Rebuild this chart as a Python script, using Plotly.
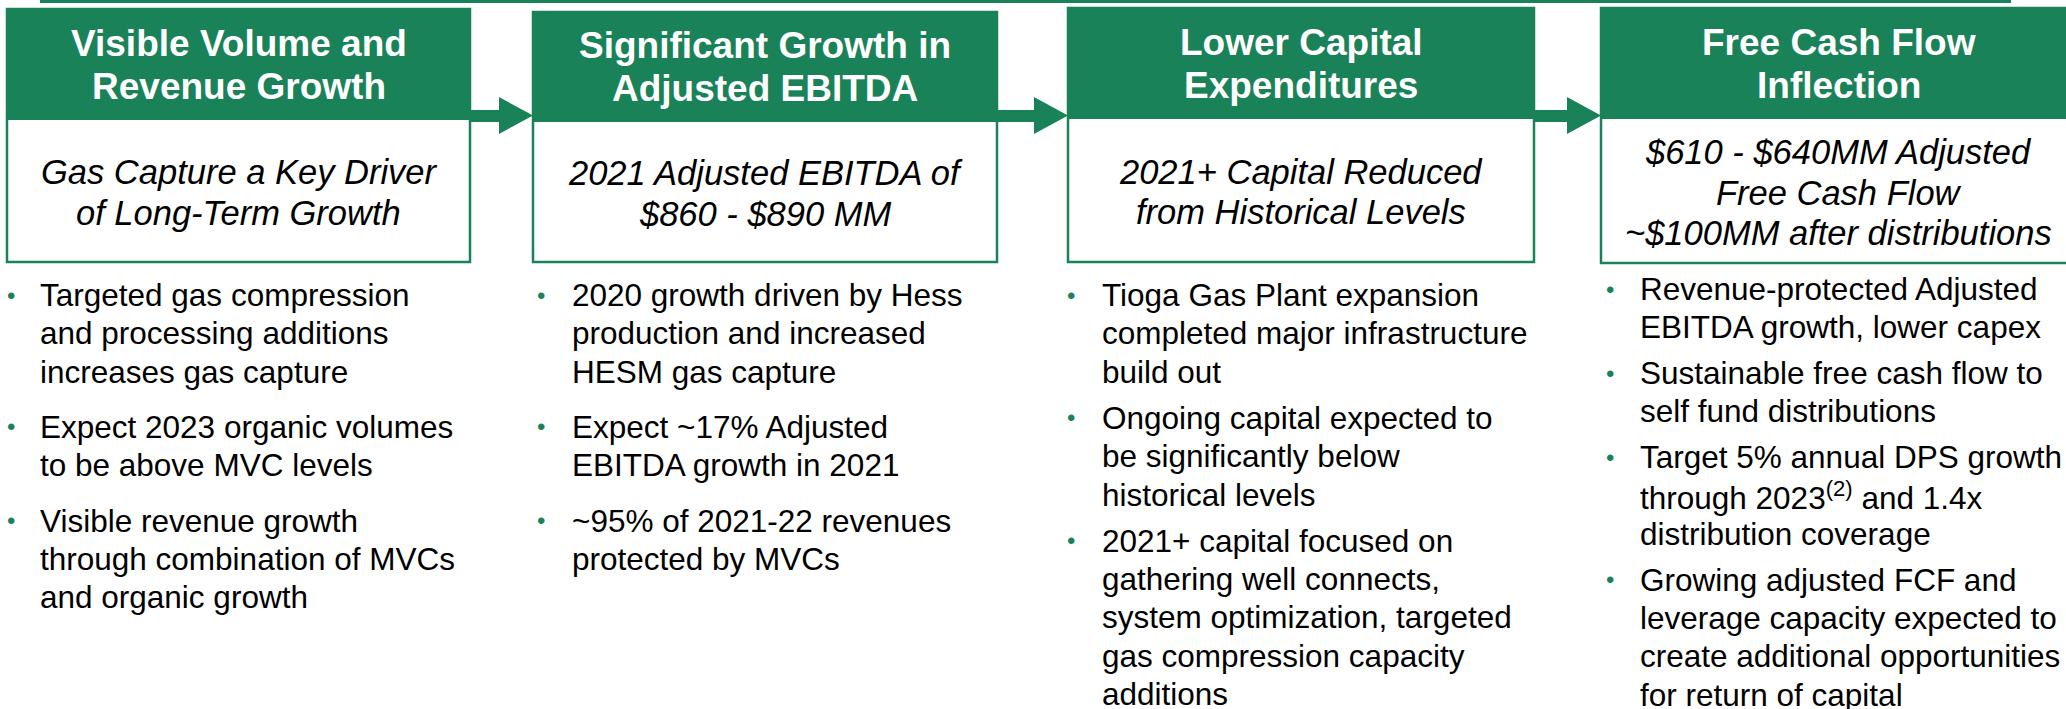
import plotly.graph_objects as go

W, H = 2066, 709
GREEN = "#1a8259"
FONT = "Liberation Sans, Arial, Helvetica, sans-serif"

# ---- content ----
headers = [
    ["Visible Volume and", "Revenue Growth"],
    ["Significant Growth in", "Adjusted EBITDA"],
    ["Lower Capital", "Expenditures"],
    ["Free Cash Flow", "Inflection"],
]
subtitles = [
    ["Gas Capture a Key Driver", "of Long-Term Growth"],
    ["2021 Adjusted EBITDA of", "$860 - $890 MM"],
    ["2021+ Capital Reduced", "from Historical Levels"],
    ["$610 - $640MM Adjusted", "Free Cash Flow", "~$100MM after distributions"],
]
bullets_col1 = [
    ["Targeted gas compression", "and processing additions", "increases gas capture"],
    ["Expect 2023 organic volumes", "to be above MVC levels"],
    ["Visible revenue growth", "through combination of MVCs", "and organic growth"],
]
bullets_col2 = [
    ["2020 growth driven by Hess", "production and increased", "HESM gas capture"],
    ["Expect ~17% Adjusted", "EBITDA growth in 2021"],
    ["~95% of 2021-22 revenues", "protected by MVCs"],
]
bullets_col3 = [
    ["Tioga Gas Plant expansion", "completed major infrastructure", "build out"],
    ["Ongoing capital expected to", "be significantly below", "historical levels"],
    ["2021+ capital focused on", "gathering well connects,", "system optimization, targeted",
     "gas compression capacity", "additions"],
]
bullets_col4 = [
    ["Revenue-protected Adjusted", "EBITDA growth, lower capex"],
    ["Sustainable free cash flow to", "self fund distributions"],
    ["Target 5% annual DPS growth", "through 2023<sup>(2)</sup> and 1.4x", "distribution coverage"],
    ["Growing adjusted FCF and", "leverage capacity expected to",
     "create additional opportunities", "for return of capital"],
]
bullets = [bullets_col1, bullets_col2, bullets_col3, bullets_col4]

# ---- layout geometry (pixels) ----
box_left = [7, 533, 1068, 1601]
box_right = [470, 997, 1534, 2076]
head_top = [9, 12, 8, 8]
head_bot = [120, 122, 119, 119]
box_bot = [262, 262, 262, 263]

dot_x = [11, 541, 1071, 1610]
text_x = [38, 570, 1100, 1638]
start_y = [295, 295, 295, 289]
para_gap = [17, 17, 8, 7.5]
LINE_H = 38.3

fig = go.Figure()
shapes = []
annotations = []

# top rule
shapes.append(dict(type="rect", xref="x", yref="y", x0=40, x1=2011, y0=-3, y1=3,
                   fillcolor=GREEN, line=dict(width=0), layer="above"))

for i in range(4):
    L, R = box_left[i], box_right[i]
    # header fill
    shapes.append(dict(type="rect", xref="x", yref="y", x0=L, x1=R, y0=head_top[i], y1=head_bot[i],
                       fillcolor=GREEN, line=dict(width=0), layer="above"))
    # outline box
    shapes.append(dict(type="rect", xref="x", yref="y", x0=L, x1=R, y0=head_top[i], y1=box_bot[i],
                       fillcolor="rgba(0,0,0,0)", line=dict(color=GREEN, width=2.5), layer="above"))
    cx = (L + R) / 2
    # header text
    hc = (head_top[i] + head_bot[i]) / 2
    hl = headers[i]
    for j, t in enumerate(hl):
        y = hc + (j - (len(hl) - 1) / 2) * 43
        annotations.append(dict(x=cx, y=y, xref="x", yref="y", text="<b>" + t + "</b>",
                                showarrow=False, xanchor="center", yanchor="middle",
                                font=dict(family=FONT, size=37, color="white")))
    # subtitle text
    sc = (head_bot[i] + box_bot[i]) / 2 + 1.5
    sl = subtitles[i]
    for j, t in enumerate(sl):
        y = sc + (j - (len(sl) - 1) / 2) * 40.5
        annotations.append(dict(x=cx, y=y, xref="x", yref="y", text="<i>" + t + "</i>",
                                showarrow=False, xanchor="center", yanchor="middle",
                                font=dict(family=FONT, size=34.5, color="black")))
    # bullets
    y = start_y[i]
    for para in bullets[i]:
        annotations.append(dict(x=dot_x[i], y=y, xref="x", yref="y", text="•",
                                showarrow=False, xanchor="center", yanchor="middle",
                                font=dict(family=FONT, size=24, color=GREEN)))
        for line in para:
            annotations.append(dict(x=text_x[i], y=y, xref="x", yref="y", text=line,
                                    showarrow=False, xanchor="left", yanchor="middle",
                                    font=dict(family=FONT, size=31.5, color="black")))
            y += LINE_H
        y += para_gap[i]

# arrows between boxes
for i in range(3):
    x0 = box_right[i]
    tip = box_left[i + 1]
    base = tip - 34
    path = (f"M {x0} 110 L {base} 110 L {base} 97 L {tip} 115.5 L {base} 134 "
            f"L {base} 122 L {x0} 122 Z")
    shapes.append(dict(type="path", xref="x", yref="y", path=path,
                       fillcolor=GREEN, line=dict(width=0), layer="above"))

fig.update_layout(
    width=W, height=H,
    margin=dict(l=0, r=0, t=0, b=0),
    paper_bgcolor="white", plot_bgcolor="white",
    xaxis=dict(range=[0, W], visible=False, fixedrange=True),
    yaxis=dict(range=[H, 0], visible=False, fixedrange=True),
    shapes=shapes, annotations=annotations,
    showlegend=False,
)

fig.write_html(
    "out.html",
    config={"displayModeBar": False},
    post_script="document.body.style.margin='0';document.body.style.overflow='hidden';",
)
